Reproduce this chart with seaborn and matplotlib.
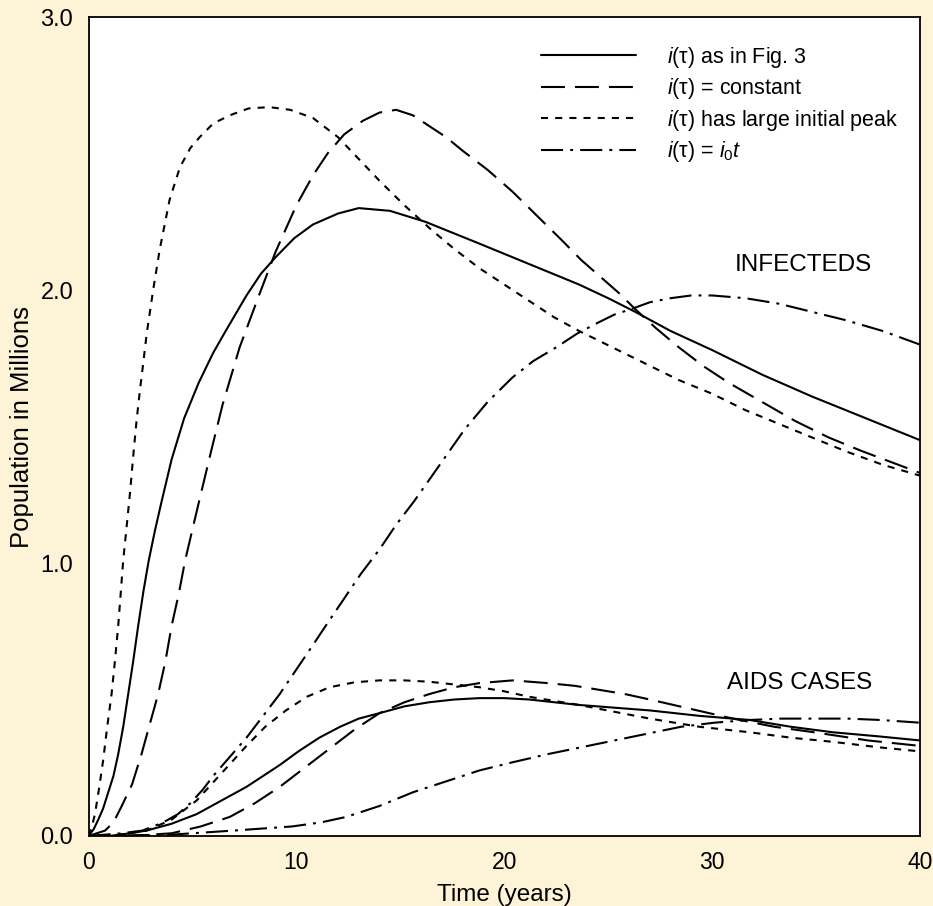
import matplotlib
matplotlib.use("Agg")
import matplotlib.pyplot as plt
import numpy as np
import pandas as pd
import seaborn as sns

# ---------------- data ----------------
# INFECTEDS
t_inf_fig3 = [0, 0.25, 0.47, 0.7, 0.95, 1.2, 1.43, 1.67, 1.91, 2.15, 2.39, 2.65, 2.9, 3.2,
              3.5, 4.0, 4.6, 5.3, 6.0, 6.6, 7.6, 8.3, 9.0, 9.9, 10.8, 12.0, 13.0, 14.5,
              16.2, 17.5, 18.8, 20.4, 22.0, 23.6, 25.0, 26.3, 28.0, 30.0, 32.4, 34.8,
              37.4, 40]
v_inf_fig3 = [0, 0.025, 0.06, 0.10, 0.16, 0.22, 0.30, 0.40, 0.52, 0.64, 0.77, 0.90, 1.01, 1.12,
              1.22, 1.38, 1.53, 1.66, 1.77, 1.85, 1.98, 2.06, 2.12, 2.19, 2.24, 2.28, 2.30, 2.29,
              2.25, 2.21, 2.17, 2.12, 2.07, 2.02, 1.97, 1.92, 1.85, 1.78, 1.69, 1.61,
              1.53, 1.45]

t_inf_const = [0, 0.8, 1.2, 1.6, 2.1, 2.55, 2.95, 3.35, 3.7, 4.0, 4.35, 4.65, 5.27, 5.9,
               6.45, 7.27, 8.2, 9.0, 10.0, 10.8, 11.5, 12.3, 13.2, 14.0, 14.8, 15.6, 16.4,
               17.2, 18.0, 19.2, 20.4, 21.6, 22.8, 23.7, 24.6, 25.5, 26.3, 27.3, 28.4,
               29.6, 30.8, 32.4, 34.0, 35.6, 37.2, 38.6, 40]
v_inf_const = [0, 0.02, 0.05, 0.11, 0.19, 0.30, 0.41, 0.52, 0.64, 0.77, 0.89, 1.01, 1.21, 1.41,
               1.58, 1.79, 1.98, 2.14, 2.31, 2.42, 2.50, 2.57, 2.62, 2.65, 2.66, 2.64, 2.60,
               2.56, 2.51, 2.44, 2.36, 2.27, 2.18, 2.11, 2.05, 1.99, 1.93, 1.86, 1.79,
               1.72, 1.66, 1.59, 1.52, 1.46, 1.41, 1.37, 1.33]

t_inf_peak = [0, 0.15, 0.31, 0.5, 0.71, 0.9, 1.11, 1.27, 1.43, 1.55, 1.67, 1.83, 2.0, 2.15,
              2.31, 2.47, 2.63, 2.8, 3.11, 3.43, 3.9, 4.4, 4.9, 5.35, 6.0, 6.8, 7.7, 8.7,
              9.7, 10.8, 12.0, 13.0, 14.0, 15.2, 16.5, 17.6, 18.8, 20.0, 21.2, 22.4, 23.6,
              25.2, 26.8, 28.4, 30.0, 31.6, 33.2, 34.8, 36.4, 38.2, 40]
v_inf_peak = [0, 0.03, 0.08, 0.17, 0.28, 0.40, 0.52, 0.64, 0.77, 0.89, 1.01, 1.13, 1.26, 1.39,
              1.52, 1.63, 1.73, 1.84, 2.0, 2.15, 2.33, 2.45, 2.52, 2.56, 2.61, 2.64, 2.665, 2.67,
              2.66, 2.63, 2.56, 2.48, 2.40, 2.31, 2.22, 2.15, 2.08, 2.02, 1.96, 1.90, 1.85,
              1.79, 1.73, 1.67, 1.62, 1.56, 1.51, 1.46, 1.41, 1.36, 1.32]

t_inf_lin = [0, 1.6, 2.6, 3.6, 4.3, 4.9, 5.5, 6.0, 6.8, 7.6, 8.4, 9.2, 10.0, 10.8, 11.5,
             12.3, 13.1, 14.0, 14.8, 15.7, 16.9, 18.1, 19.2, 20.4, 21.4, 22.5, 23.5, 24.5,
             25.3, 26.1, 27.0, 28.0, 29.0, 30.0, 31.6, 33.2, 34.8, 36.4, 38.2, 40]
v_inf_lin = [0, 0.01, 0.02, 0.05, 0.08, 0.12, 0.17, 0.22, 0.29, 0.36, 0.44, 0.52, 0.61, 0.70, 0.78,
             0.87, 0.96, 1.05, 1.14, 1.23, 1.36, 1.49, 1.59, 1.68, 1.74, 1.79, 1.84, 1.88,
             1.91, 1.93, 1.955, 1.97, 1.98, 1.98, 1.97, 1.95, 1.92, 1.89, 1.85, 1.80]

# AIDS CASES
t_aids_fig3 = [0, 1.0, 2.0, 2.8, 4.0, 5.2, 6.4, 7.6, 8.4, 9.2, 10.1, 11.1, 12.1, 13.0, 14.0,
               15.2, 16.4, 17.6, 18.8, 20.0, 21.2, 22.4, 23.6, 25.3, 27.0, 29.4, 31.8, 33.8,
               35.8, 38.0, 40]
v_aids_fig3 = [0, 0.0, 0.01, 0.02, 0.045, 0.08, 0.13, 0.18, 0.22, 0.26, 0.31, 0.36, 0.40, 0.43,
               0.45, 0.475, 0.49, 0.50, 0.505, 0.505, 0.50, 0.49, 0.48, 0.47, 0.46, 0.44, 0.425,
               0.40, 0.38, 0.365, 0.35]

t_aids_const = [0, 2.0, 3.0, 4.0, 5.4, 6.8, 8.0, 9.2, 10.4, 11.6, 12.8, 14.0, 15.2, 16.4,
                17.6, 18.8, 20.4, 22.1, 23.4, 24.6, 25.8, 27.0, 29.0, 31.0, 33.0, 34.9,
                37.5, 40]
v_aids_const = [0, 0.0, 0.005, 0.01, 0.035, 0.07, 0.12, 0.18, 0.25, 0.32, 0.39, 0.45, 0.49, 0.52,
                0.545, 0.56, 0.57, 0.56, 0.55, 0.535, 0.52, 0.50, 0.465, 0.43, 0.40, 0.38,
                0.35, 0.33]

t_aids_peak = [0, 1.5, 2.8, 4.0, 5.2, 6.4, 7.6, 8.5, 9.5, 10.5, 11.6, 12.8, 14.0, 15.2, 16.4,
               17.6, 18.8, 20.0, 21.2, 22.4, 23.6, 25.3, 27.0, 29.4, 31.8, 33.8, 35.8, 38.0, 40]
v_aids_peak = [0, 0.005, 0.02, 0.06, 0.13, 0.23, 0.33, 0.40, 0.46, 0.51, 0.545, 0.563, 0.57,
               0.57, 0.565, 0.555, 0.545, 0.53, 0.51, 0.495, 0.48, 0.455, 0.43, 0.40, 0.38,
               0.36, 0.345, 0.325, 0.31]

t_aids_lin = [0, 4.0, 7.0, 9.8, 11.2, 12.4, 14.0, 15.6, 17.2, 18.8, 20.4, 22.1, 23.7, 25.3,
              26.9, 28.5, 30.1, 31.8, 33.3, 34.9, 36.5, 38.1, 40]
v_aids_lin = [0, 0.005, 0.02, 0.035, 0.05, 0.07, 0.11, 0.16, 0.20, 0.24, 0.27, 0.30, 0.325, 0.35,
              0.375, 0.40, 0.415, 0.425, 0.43, 0.43, 0.43, 0.425, 0.415]

legend_labels = ["$i$(τ) as in Fig. 3",
                 "$i$(τ) = constant",
                 "$i$(τ) has large initial peak",
                 "$i$(τ) = $i_0t$"]
x_ticks = [0, 10, 20, 30, 40]
x_tick_labels = ["0", "10", "20", "30", "40"]
y_ticks = [0, 1, 2, 3]
y_tick_labels = ["0.0", "1.0", "2.0", "3.0"]

# ---------------- style ----------------
sns.set_theme(style="white")
plt.rcParams["font.family"] = ["Liberation Sans", "DejaVu Sans"]
plt.rcParams["mathtext.fontset"] = "custom"
plt.rcParams["mathtext.rm"] = "Liberation Sans"
plt.rcParams["mathtext.it"] = "Liberation Sans:italic"

BG = "#fdf3d6"
W, H = 933, 906
fig = plt.figure(figsize=(W / 100, H / 100), dpi=100, facecolor=BG)
ax = fig.add_axes([88.5 / W, 1 - 836 / H, (920 - 88.5) / W, (836 - 17) / H])
ax.set_facecolor("white")

LW = 1.5
ls_fig3 = "-"
ls_const = (0, (11.5, 4.8))
ls_peak = (0, (3.4, 3.4))
ls_lin = (0, (10.6, 3.4, 1.4, 3.4))

series = [
    (t_inf_fig3, v_inf_fig3, ls_fig3, legend_labels[0]),
    (t_inf_const, v_inf_const, ls_const, legend_labels[1]),
    (t_inf_peak, v_inf_peak, ls_peak, legend_labels[2]),
    (t_inf_lin, v_inf_lin, ls_lin, legend_labels[3]),
    (t_aids_fig3, v_aids_fig3, ls_fig3, None),
    (t_aids_const, v_aids_const, ls_const, None),
    (t_aids_peak, v_aids_peak, ls_peak, None),
    (t_aids_lin, v_aids_lin, ls_lin, None),
]
for t, v, ls, lab in series:
    df = pd.DataFrame({"t": t, "v": v})
    kw = {}
    if lab is not None:
        kw["label"] = lab
    sns.lineplot(data=df, x="t", y="v", ax=ax, color="black", linewidth=LW,
                 linestyle=ls, errorbar=None, sort=False, legend=False, **kw)

ax.set_xlim(0, 40)
ax.set_ylim(0, 3)
ax.set_xticks(x_ticks)
ax.set_xticklabels(x_tick_labels)
ax.set_yticks(y_ticks)
ax.set_yticklabels(y_tick_labels)
ax.tick_params(axis="x", direction="in", length=18, width=1.0, pad=11,
               labelsize=16.5, colors="black")
ax.tick_params(axis="y", direction="in", length=10, width=1.0, pad=11,
               labelsize=17, colors="black")
for s in ax.spines.values():
    s.set_visible(True)
    s.set_color("black")
    s.set_linewidth(1.3)

ax.set_xlabel("Time (years)", fontsize=17.5, labelpad=7, color="black")
ax.set_ylabel("Population in Millions", fontsize=18.5, labelpad=5, color="black")

ax.text(34.4, 2.09, "INFECTEDS", ha="center", va="center", fontsize=17.5, color="black")
ax.text(34.2, 0.56, "AIDS CASES", ha="center", va="center", fontsize=17.5, color="black")

leg = ax.legend(loc="upper left", bbox_to_anchor=(541 / W, 1 - 45 / H),
                bbox_transform=fig.transFigure, frameon=False, fontsize=15.5,
                handlelength=4.4, handletextpad=1.45, labelspacing=0.3,
                borderpad=0, borderaxespad=0)
for txt in leg.get_texts():
    txt.set_color("black")

fig.savefig("out.png", dpi=100, facecolor=BG)
